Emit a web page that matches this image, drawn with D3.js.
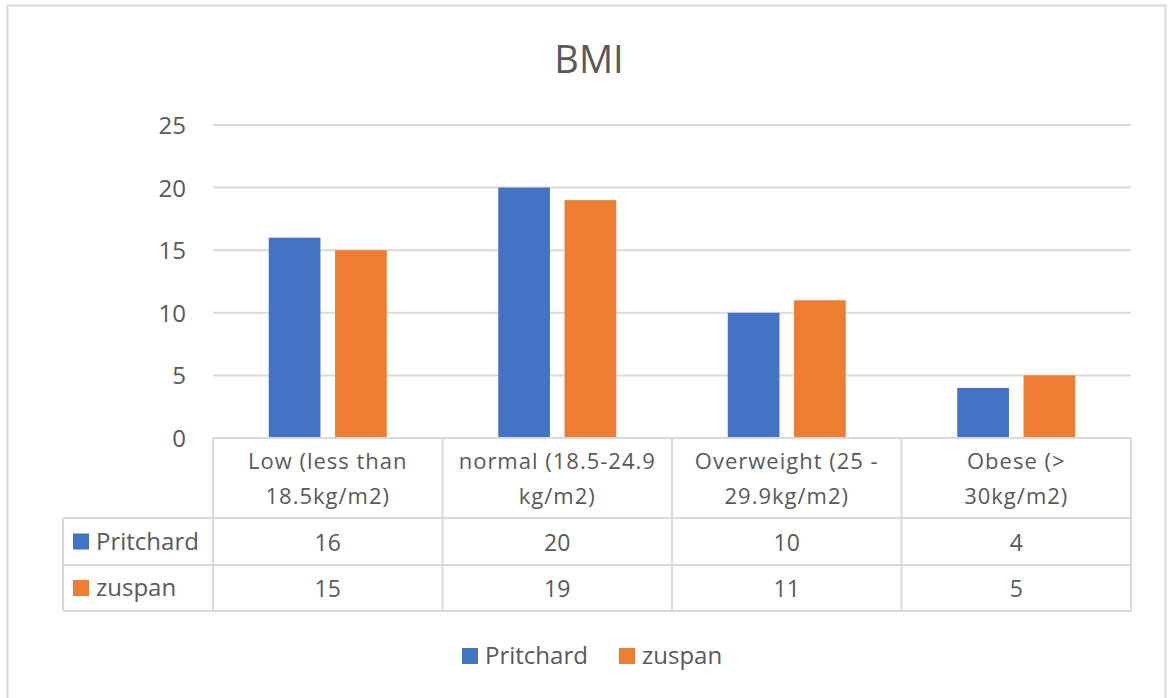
<!DOCTYPE html>
<html>
<head>
<meta charset="utf-8">
<script src="https://cdn.jsdelivr.net/npm/d3@7"></script>
<style>
  html, body { margin: 0; padding: 0; background: #fff; }
  svg { display: block; }
  text { font-family: "Open Sans", "Liberation Sans", sans-serif; fill: #595959; }
</style>
</head>
<body>
<svg id="chart" width="1168" height="698"></svg>
<script>
// BMI category counts for the two groups
const categories = [
  ["Low (less than", "18.5kg/m2)"],
  ["normal (18.5-24.9", "kg/m2)"],
  ["Overweight (25 -", "29.9kg/m2)"],
  ["Obese (>", "30kg/m2)"]
];
const seriesNames = ["Pritchard", "zuspan"];
const pritchard = [16, 20, 10, 4];
const zuspan = [15, 19, 11, 5];
const yTicks = [0, 5, 10, 15, 20, 25];
const colors = ["#4472C4", "#ED7D31"];

const series = [pritchard, zuspan];
const svg = d3.select("#chart");
const grid = "#D9D9D9";

// chart area frame
svg.append("rect")
  .attr("x", 7.5).attr("y", 5.5).attr("width", 1158).attr("height", 700)
  .attr("fill", "#fff").attr("stroke", grid).attr("stroke-width", 2);

svg.append("text")
  .attr("x", 589).attr("y", 73)
  .attr("text-anchor", "middle")
  .style("font-size", "38px")
  .text("BMI");

const plotLeft = 213, plotRight = 1131, plotTop = 125, plotBottom = 438;

const x = d3.scaleBand().domain(d3.range(categories.length)).range([plotLeft, plotRight]);
const y = d3.scaleLinear().domain([0, 25]).range([plotBottom, plotTop]);

// horizontal gridlines
svg.append("g").selectAll("line").data(yTicks.filter(t => t > 0)).join("line")
  .attr("x1", plotLeft).attr("x2", plotRight)
  .attr("y1", d => y(d)).attr("y2", d => y(d))
  .attr("stroke", grid).attr("stroke-width", 2);

// y axis labels
const yAxis = d3.axisLeft(y).tickValues(yTicks).tickSize(0);
const yg = svg.append("g").attr("transform", `translate(${plotLeft},0)`).call(yAxis);
yg.select(".domain").remove();
yg.selectAll("text").style("font-size", "24px").attr("fill", "#595959")
  .attr("dy", "0.35em").attr("text-anchor", "end").attr("x", -27);

// bars
const inner = d3.scaleBand().domain([0, 1]).range([0, 118]).paddingInner(0.22);
const barOffset = (x.bandwidth() - 118) / 2;
series.forEach((vals, si) => {
  svg.append("g").selectAll("rect").data(vals).join("rect")
    .attr("x", (d, i) => x(i) + barOffset + inner(si))
    .attr("width", inner.bandwidth())
    .attr("y", d => y(d))
    .attr("height", d => y(0) - y(d))
    .attr("fill", colors[si]);
});

// data table under the plot
const tableLeft = 63;
const headerBottom = 518, row1Bottom = 565, row2Bottom = 611;
const lines = svg.append("g").attr("stroke", grid).attr("stroke-width", 2).attr("fill", "none");
// horizontal rules
lines.append("line").attr("x1", plotLeft).attr("x2", plotRight).attr("y1", plotBottom).attr("y2", plotBottom);
[headerBottom, row1Bottom, row2Bottom].forEach(yy => {
  lines.append("line").attr("x1", tableLeft).attr("x2", plotRight).attr("y1", yy).attr("y2", yy);
});
// vertical rules
lines.append("line").attr("x1", tableLeft).attr("x2", tableLeft).attr("y1", headerBottom).attr("y2", row2Bottom);
d3.range(categories.length + 1).forEach(i => {
  const xx = i < categories.length ? x(i) : plotRight;
  lines.append("line").attr("x1", xx).attr("x2", xx).attr("y1", plotBottom).attr("y2", row2Bottom);
});

// category header labels
categories.forEach((cat, i) => {
  const t = svg.append("text")
    .attr("x", x(i) + x.bandwidth() / 2)
    .attr("text-anchor", "middle")
    .style("font-size", "22px")
    .style("letter-spacing", "1px");
  cat.forEach((ln, k) => {
    t.append("tspan").attr("x", x(i) + x.bandwidth() / 2).attr("y", 469 + k * 35).text(ln);
  });
});

// series rows
const rowMid = [(headerBottom + row1Bottom) / 2, (row1Bottom + row2Bottom) / 2];
series.forEach((vals, si) => {
  svg.append("rect")
    .attr("x", 73).attr("y", rowMid[si] - 8).attr("width", 16).attr("height", 16)
    .attr("fill", colors[si]);
  svg.append("text")
    .attr("x", 96).attr("y", rowMid[si]).attr("dy", "0.35em")
    .style("font-size", "24px").text(seriesNames[si]);
  svg.append("g").selectAll("text").data(vals).join("text")
    .attr("x", (d, i) => x(i) + x.bandwidth() / 2)
    .attr("y", rowMid[si] + 1).attr("dy", "0.35em")
    .attr("text-anchor", "middle")
    .style("font-size", "23px")
    .text(d => d);
});

// legend
const legendItems = [{ x: 462 }, { x: 619 }];
seriesNames.forEach((name, si) => {
  const lx = legendItems[si].x;
  svg.append("rect").attr("x", lx).attr("y", 648).attr("width", 16).attr("height", 16).attr("fill", colors[si]);
  svg.append("text").attr("x", lx + 23).attr("y", 656).attr("dy", "0.35em")
    .style("font-size", "24px").text(name);
});
</script>
</body>
</html>
